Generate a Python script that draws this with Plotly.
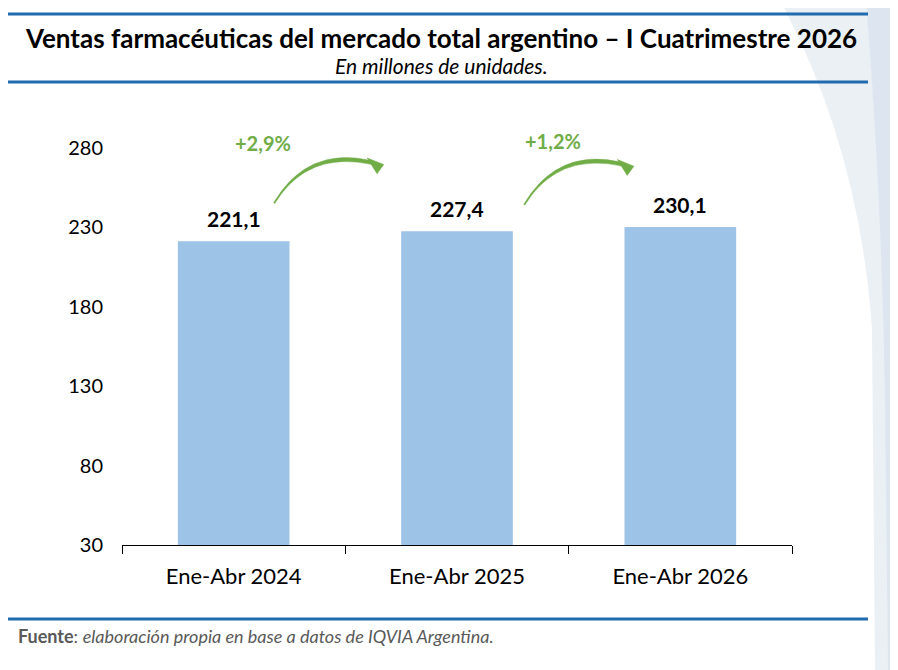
import plotly.graph_objects as go

categories = ["Ene-Abr 2024", "Ene-Abr 2025", "Ene-Abr 2026"]
units = [221.1, 227.4, 230.1]
value_labels = ["221,1", "227,4", "230,1"]
growth_labels = ["+2,9%", "+1,2%"]
y_ticks = [30, 80, 130, 180, 230, 280]

# page body adds 8px, so the figure is sized to end at the window edge
OFF = 8
W, H = 890, 662
L, R, T, B = 114, 106, 108, 125
FONT = "Lato"
BLUE_LINE = "#1F6BAE"
GREEN = "#70AD47"


def px_x(p):
    # screen pixel -> paper x
    return (p - OFF - L) / (W - L - R)


def px_y(p):
    # screen pixel -> paper y
    return (H - B - (p - OFF)) / (H - T - B)


fig = go.Figure(
    go.Bar(
        x=categories,
        y=units,
        marker={"color": "#9DC3E6", "line": {"width": 0}},
        hoverinfo="x+y",
    )
)

annotations = []
for cat, val, lab in zip(categories, units, value_labels):
    annotations.append(
        dict(x=cat, y=val, text=f"<b>{lab}</b>", showarrow=False, yanchor="bottom",
             yshift=8, font={"size": 21, "color": "#000000", "family": FONT})
    )

# growth labels between bars
for i, lab in enumerate(growth_labels):
    annotations.append(
        dict(x=[0.13, 1.43][i], y=[283, 284][i], xref="x", yref="y", text=f"<b>{lab}</b>",
             showarrow=False, xanchor="center", yanchor="middle",
             font={"size": 20, "color": GREEN, "family": FONT})
    )

annotations += [
    dict(x=px_x(441), y=px_y(38), xref="paper", yref="paper", showarrow=False,
         xanchor="center", yanchor="middle",
         text="<b>Ventas farmacéuticas del mercado total argentino – I Cuatrimestre 2026</b>",
         font={"size": 26, "color": "#000000", "family": FONT}),
    dict(x=px_x(441), y=px_y(66), xref="paper", yref="paper", showarrow=False,
         xanchor="center", yanchor="middle",
         text="<i>En millones de unidades.</i>",
         font={"size": 21, "color": "#000000", "family": FONT}),
    dict(x=px_x(16), y=px_y(636), xref="paper", yref="paper", showarrow=False,
         xanchor="left", yanchor="middle",
         text="<b>Fuente</b>: <i>elaboración propia en base a datos de IQVIA Argentina.</i>",
         font={"size": 18, "color": "#595959", "family": FONT}),
]

shapes = []
# decorative background on the right edge
shapes.append(dict(
    type="path", xref="paper", yref="paper", layer="below",
    path=(f"M {px_x(780)},{px_y(0)} Q {px_x(860)},{px_y(150)} {px_x(872)},{px_y(330)} "
          f"L {px_x(875)},{px_y(670)} L {px_x(900)},{px_y(670)} L {px_x(900)},{px_y(0)} Z"),
    fillcolor="#E6ECF3", line={"width": 0}, opacity=0.8,
))
shapes.append(dict(
    type="path", xref="paper", yref="paper", layer="below",
    path=(f"M {px_x(866)},{px_y(0)} Q {px_x(882)},{px_y(200)} {px_x(885)},{px_y(400)} "
          f"L {px_x(888)},{px_y(670)} L {px_x(900)},{px_y(670)} L {px_x(900)},{px_y(0)} Z"),
    fillcolor="#D3DFEC", line={"width": 0}, opacity=0.6,
))
# header and footer rules
for py in (14, 82, 619):
    shapes.append(dict(type="line", xref="paper", yref="paper", x0=px_x(8), x1=px_x(868),
                       y0=px_y(py), y1=px_y(py), line={"color": BLUE_LINE, "width": 3}))

# curved growth arrows, drawn after each bar (offset in x, y)
for dx, dy in ((0.0, 0.0), (1.12, -1.0)):
    tail = (0.179 + dx, 245.4 + dy)
    c_out, c_in = (0.33 + dx, 281.2 + dy), (0.33 + dx, 278.6 + dy)
    e_out, e_in = (0.614 + dx, 272.0 + dy), (0.622 + dx, 269.4 + dy)
    shapes.append(dict(
        type="path", xref="x", yref="y", fillcolor=GREEN, line={"color": GREEN, "width": 0.5},
        path=(f"M {tail[0]},{tail[1]} Q {c_out[0]},{c_out[1]} {e_out[0]},{e_out[1]} "
              f"L {e_in[0]},{e_in[1]} Q {c_in[0]},{c_in[1]} {tail[0] + 0.005},{tail[1] - 0.4} Z"),
    ))
    shapes.append(dict(
        type="path", xref="x", yref="y", fillcolor=GREEN, line={"color": GREEN, "width": 0.5},
        path=(f"M {0.598 + dx},{273.6 + dy} L {0.672 + dx},{269.4 + dy} "
              f"L {0.642 + dx},{263.6 + dy} Z"),
    ))

fig.update_layout(
    width=W,
    height=H,
    margin={"l": L, "r": R, "t": T, "b": B},
    paper_bgcolor="#FFFFFF",
    plot_bgcolor="rgba(0,0,0,0)",
    bargap=0.5,
    showlegend=False,
    font={"family": FONT, "color": "#000000"},
    annotations=annotations,
    shapes=shapes,
)
fig.update_xaxes(
    range=[-0.5, 2.5],
    showline=True, linecolor="#000000", linewidth=1,
    ticks="outside", tickson="boundaries", ticklen=8, tickcolor="#000000",
    tickfont={"size": 22, "family": FONT},
    ticklabelstandoff=12,
    showgrid=False,
)
fig.update_yaxes(
    range=[30, 300],
    tickvals=y_ticks,
    tickfont={"size": 20, "family": FONT},
    showgrid=False, zeroline=False, showline=False,
    ticks="", ticklabelstandoff=18,
)

fig.write_html("out.html")
